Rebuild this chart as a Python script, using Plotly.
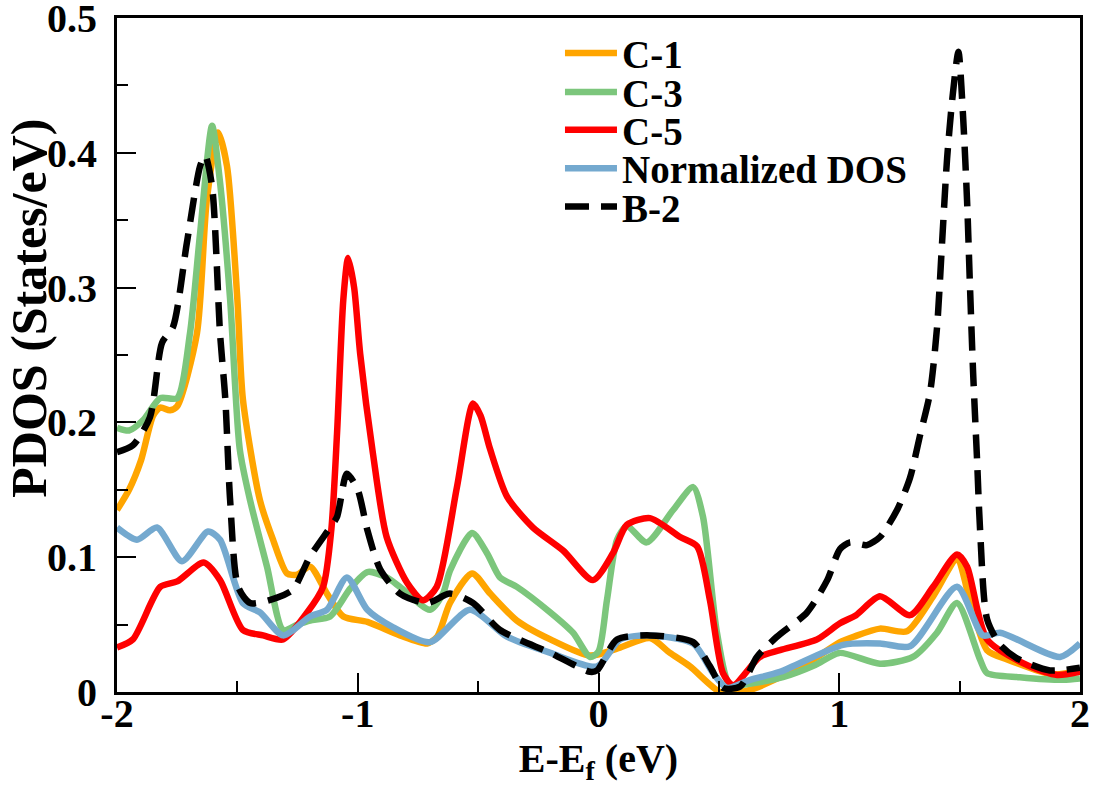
import plotly.graph_objects as go

# ---------------- data ----------------
c1_x = [-2.0, -1.95, -1.9, -1.85, -1.82, -1.78, -1.75, -1.668, -1.627, -1.58, -1.543, -1.5,
        -1.477, -1.406, -1.352, -1.294, -1.252, -1.198, -1.128, -1.06, -0.96, -0.825, -0.712,
        -0.67, -0.617, -0.525, -0.45, -0.339, -0.2, -0.035, 0.09, 0.214, 0.297, 0.38, 0.505,
        0.58, 0.63, 0.754, 0.891, 1.003, 1.06, 1.169, 1.281, 1.39, 1.489, 1.543, 1.614, 1.7,
        1.888, 2.0]
c1_y = [0.135, 0.15, 0.172, 0.205, 0.211, 0.209, 0.212, 0.266, 0.365, 0.415, 0.39, 0.291,
        0.217, 0.142, 0.113, 0.088, 0.087, 0.093, 0.073, 0.056, 0.052, 0.042, 0.036,
        0.041, 0.066, 0.088, 0.073, 0.053, 0.039, 0.027, 0.033, 0.040, 0.029, 0.019, 0.0,
        0.0, 0.0015, 0.011, 0.024, 0.037, 0.041, 0.047, 0.045, 0.071, 0.098, 0.068, 0.031, 0.024,
        0.013, 0.016]

c3_x = [-2.0, -1.95, -1.89, -1.82, -1.75, -1.697, -1.655, -1.605, -1.572, -1.53, -1.49,
        -1.447, -1.377, -1.31, -1.25, -1.198, -1.115, -1.03, -0.96, -0.88, -0.825, -0.7,
        -0.646, -0.617, -0.525, -0.463, -0.409, -0.339, -0.2, -0.106, -0.035, 0.0, 0.035,
        0.077, 0.118, 0.2, 0.31, 0.393, 0.434, 0.492, 0.546, 0.62, 0.766, 0.9, 1.0, 1.169,
        1.306, 1.406, 1.489, 1.585, 1.614, 1.75, 1.93, 2.0]
c3_y = [0.196, 0.194, 0.202, 0.218, 0.218, 0.266, 0.34, 0.42, 0.378, 0.291, 0.18,
        0.142, 0.093, 0.046, 0.05, 0.053, 0.056, 0.077, 0.089, 0.085, 0.078, 0.061,
        0.073, 0.09, 0.118, 0.103, 0.085, 0.078, 0.059, 0.044, 0.026, 0.03, 0.068,
        0.113, 0.123, 0.111, 0.135, 0.152, 0.13, 0.044, 0.005, 0.006, 0.011, 0.02, 0.029, 0.021,
        0.026, 0.044, 0.066, 0.024, 0.014, 0.011, 0.009, 0.010]

c5_x = [-2.0, -1.934, -1.82, -1.75, -1.64, -1.572, -1.477, -1.393, -1.31, -1.21, -1.144,
        -1.11, -1.086, -1.06, -1.04, -1.015, -0.99, -0.937, -0.88, -0.795, -0.729, -0.672, -0.588,
        -0.521, -0.49, -0.45, -0.38, -0.272, -0.147, -0.023, 0.06, 0.118, 0.214, 0.339, 0.41,
        0.463, 0.517, 0.559, 0.67, 0.754, 0.908, 1.003, 1.07, 1.169, 1.294, 1.39, 1.489, 1.531,
        1.614, 1.792, 1.905, 2.0]
c5_y = [0.033, 0.039, 0.078, 0.082, 0.096, 0.083, 0.046, 0.042, 0.039, 0.059, 0.078,
        0.12, 0.192, 0.291, 0.322, 0.30, 0.251, 0.177, 0.115, 0.081, 0.068, 0.078, 0.152,
        0.214, 0.205, 0.18, 0.145, 0.122, 0.105, 0.083, 0.103, 0.124, 0.129, 0.115, 0.108,
        0.068, 0.014, 0.005, 0.026, 0.031, 0.039, 0.051, 0.057, 0.071, 0.057, 0.078, 0.102, 0.093,
        0.039, 0.019, 0.0126, 0.015]

dos_x = [-2.0, -1.917, -1.834, -1.73, -1.622, -1.572, -1.477, -1.406, -1.31, -1.198, -1.128,
         -1.045, -0.96, -0.853, -0.7, -0.534, -0.38, -0.2, -0.006, 0.09, 0.214, 0.393, 0.476,
         0.534, 0.63, 0.754, 1.016, 1.169, 1.294, 1.489, 1.597, 1.668, 1.917, 2.0]
dos_y = [0.122, 0.113, 0.122, 0.097, 0.119, 0.113, 0.066, 0.059, 0.042, 0.056, 0.061,
         0.085, 0.061, 0.048, 0.037, 0.061, 0.041, 0.029, 0.019, 0.039, 0.042, 0.036, 0.014,
         0.003, 0.009, 0.015, 0.035, 0.036, 0.034, 0.078, 0.042, 0.044, 0.026, 0.036]

b2_x = [-2.0, -1.934, -1.863, -1.813, -1.767, -1.71, -1.655, -1.634, -1.605, -1.572, -1.55,
        -1.53, -1.497, -1.447, -1.335, -1.269, -1.2, -1.115, -1.086, -1.045, -1.0, -0.96,
        -0.907, -0.825, -0.712, -0.617, -0.521, -0.409, -0.2, -0.035, -0.006, 0.077, 0.214,
        0.393, 0.463, 0.517, 0.588, 0.658, 0.741, 0.866, 0.95, 1.003, 1.045, 1.115, 1.169,
        1.24, 1.294, 1.335, 1.377, 1.406, 1.427, 1.448, 1.472, 1.495, 1.514, 1.531, 1.543,
        1.556, 1.572, 1.585, 1.614, 1.668, 1.738, 1.875, 2.0]
b2_y = [0.178, 0.183, 0.204, 0.259, 0.271, 0.333, 0.39, 0.398, 0.375, 0.266, 0.217,
        0.142, 0.078, 0.066, 0.07, 0.076, 0.1, 0.122, 0.13, 0.162, 0.15, 0.12,
        0.091, 0.073, 0.066, 0.073, 0.066, 0.046, 0.029, 0.015, 0.016, 0.039, 0.042,
        0.037, 0.019, 0.003, 0.004, 0.026, 0.041, 0.059, 0.083, 0.106, 0.111, 0.109, 0.115,
        0.135, 0.159, 0.19, 0.222, 0.27, 0.333, 0.396, 0.444, 0.475, 0.428, 0.364, 0.301,
        0.237, 0.174, 0.12, 0.054, 0.035, 0.025, 0.016, 0.018]

series_names = ["C-1", "C-3", "C-5", "Normalized DOS", "B-2"]
x_tick_vals = [-2, -1, 0, 1, 2]
x_tick_text = ["-2", "-1", "0", "1", "2"]
y_tick_vals = [0, 0.1, 0.2, 0.3, 0.4, 0.5]
y_tick_text = ["0", "0.1", "0.2", "0.3", "0.4", "0.5"]
x_title = "E-E<sub>f</sub> (eV)"
y_title = "PDOS (States/eV)"

# ---------------- styling ----------------
FONT = "Liberation Serif, Times New Roman, serif"
colors = ["#FFA500", "#7CC67C", "#FF0000", "#74A9CF", "#000000"]
dashes = ["solid", "solid", "solid", "solid", "24px,12px"]
xs = [c1_x, c3_x, c5_x, dos_x, b2_x]
ys = [c1_y, c3_y, c5_y, dos_y, b2_y]

fig = go.Figure()
legend_ids = ["legend", "legend2", "legend3", "legend4", "legend5"]
for i in range(5):
    fig.add_trace(go.Scatter(
        x=xs[i], y=ys[i], mode="lines", name=series_names[i],
        line=dict(color=colors[i], width=6.5, dash=dashes[i], shape="spline", smoothing=0.7),
        legend=legend_ids[i], showlegend=True,
    ))

legend_font = dict(family=FONT, size=39, color="black", weight="bold")
legend_rows = [0.948, 0.890, 0.834, 0.777, 0.720]
for i, lid in enumerate(legend_ids):
    fig.update_layout({lid: dict(
        x=0.460, y=legend_rows[i], xanchor="left", yanchor="middle",
        bgcolor="rgba(0,0,0,0)", borderwidth=0, font=legend_font,
        itemwidth=52, tracegroupgap=0,
    )})

axis_common = dict(
    showgrid=False, zeroline=False, showline=True, linecolor="black", linewidth=3,
    mirror=True, ticks="inside", ticklen=19, tickwidth=2, tickcolor="black",
    tickfont=dict(family=FONT, size=40, color="black", weight="bold"),
    ticklabeloverflow="allow", automargin=False,
)
fig.update_xaxes(
    range=[-2, 2], tickmode="array", tickvals=x_tick_vals, ticktext=x_tick_text,
    minor=dict(ticks="inside", ticklen=11, tickwidth=2, tickcolor="black", dtick=0.5,
               tick0=-2, showgrid=False),
    ticklabelstandoff=-16,
    title=dict(text=x_title, standoff=8,
               font=dict(family=FONT, size=40, color="black", weight="bold")),
    **axis_common,
)
fig.update_yaxes(
    range=[0, 0.5], tickmode="array", tickvals=y_tick_vals, ticktext=y_tick_text,
    minor=dict(ticks="inside", ticklen=11, tickwidth=2, tickcolor="black", dtick=0.05,
               tick0=0, showgrid=False),
    ticklabelstandoff=9,
    **axis_common,
)
fig.add_annotation(
    text=y_title, textangle=-90, xref="paper", yref="paper",
    x=-0.0915, y=0.570, xanchor="center", yanchor="middle", showarrow=False,
    font=dict(family=FONT, size=50, color="black", weight="bold"),
)
fig.update_layout(
    width=1099, height=788,
    margin=dict(l=117, r=19, t=18, b=96),
    plot_bgcolor="white", paper_bgcolor="white",
)
fig.write_html(
    "out.html",
    config={"displayModeBar": False},
    post_script="document.body.style.margin='0px';document.body.style.padding='0px';",
)
